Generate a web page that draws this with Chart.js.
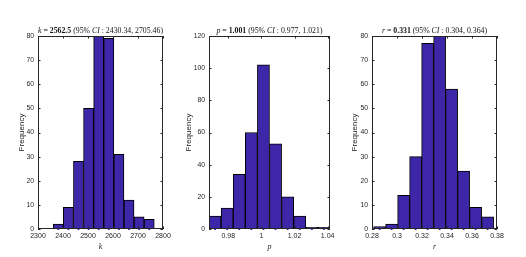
<!DOCTYPE html>
<html><head><meta charset="utf-8">
<script src="https://cdn.jsdelivr.net/npm/chart.js@4/dist/chart.umd.min.js"></script>
<style>
html,body{margin:0;padding:0;background:#fff;width:526px;height:257px;overflow:hidden}
canvas{position:absolute;top:0}
</style></head><body>
<canvas id="c1" width="180" height="257" style="left:0px"></canvas>
<canvas id="c2" width="170" height="257" style="left:180px"></canvas>
<canvas id="c3" width="181" height="257" style="left:345px"></canvas>
<script>
// ---- data ----
const kCenters = [2381.2, 2421.6, 2462.0, 2502.4, 2542.8, 2583.2, 2623.6, 2664.0, 2704.4, 2744.8];
const kCounts  = [2, 9, 28, 50, 80, 79, 31, 12, 5, 4];
const pCenters = [0.97205, 0.97935, 0.98665, 0.99395, 1.00125, 1.00855, 1.01585, 1.02315, 1.03045, 1.03775];
const pCounts  = [8, 13, 34, 60, 102, 53, 20, 8, 1, 1];
const rCenters = [0.2861, 0.2957, 0.3053, 0.3149, 0.3245, 0.3341, 0.3437, 0.3533, 0.3629, 0.3725];
const rCounts  = [1, 2, 14, 30, 77, 80, 58, 24, 9, 5];

const kXTicks = [2300, 2400, 2500, 2600, 2700, 2800];
const pXTicks = [0.98, 1.00, 1.02, 1.04];
const rXTicks = [0.28, 0.30, 0.32, 0.34, 0.36, 0.38];
const kYTicks = [0, 10, 20, 30, 40, 50, 60, 70, 80];
const pYTicks = [0, 20, 40, 60, 80, 100, 120];
const rYTicks = [0, 10, 20, 30, 40, 50, 60, 70, 80];

const kTitle = [['k','italic'],[' = ','normal'],['2562.5','bold'],[' (95% ','normal'],['CI','italic'],[' : 2430.34, 2705.46)','normal']];
const pTitle = [['p','italic'],[' = ','normal'],['1.001','bold'],[' (95% ','normal'],['CI','italic'],[' : 0.977, 1.021)','normal']];
const rTitle = [['r','italic'],[' = ','normal'],['0.331','bold'],[' (95% ','normal'],['CI','italic'],[' : 0.304, 0.364)','normal']];

// ---- styling ----
const AX = '#1e1e1e';
const BAR = '#3e26a8';
const SANS = '"Liberation Sans", Arial, sans-serif';
const SERIF = '"Liberation Serif", "DejaVu Serif", serif';

const boxPlugin = {
  id: 'box',
  afterDatasetsDraw(chart) {
    const {ctx, chartArea: a, scales: {x, y}} = chart;
    const tl = 2.5;
    ctx.save();
    ctx.strokeStyle = '#262626'; ctx.lineWidth = 1;
    ctx.beginPath();
    x.ticks.forEach(t => {
      const px = Math.round(x.getPixelForValue(t.value)) + 0.5;
      ctx.moveTo(px, a.bottom); ctx.lineTo(px, a.bottom - tl);
      ctx.moveTo(px, a.top); ctx.lineTo(px, a.top + tl);
    });
    y.ticks.forEach(t => {
      const py = Math.round(y.getPixelForValue(t.value)) + 0.5;
      ctx.moveTo(a.left, py); ctx.lineTo(a.left + tl, py);
      ctx.moveTo(a.right, py); ctx.lineTo(a.right - tl, py);
    });
    ctx.stroke();
    ctx.strokeRect(Math.round(a.left) + 0.5, Math.round(a.top) + 0.5,
                   Math.round(a.right - a.left) - 1, Math.round(a.bottom - a.top) - 1);
    ctx.restore();
  }
};

const richTitlePlugin = {
  id: 'richTitle',
  afterDraw(chart, args, opts) {
    const segs = opts.segments; if (!segs) return;
    const {ctx, chartArea: a} = chart;
    const size = opts.size;
    const fontOf = s => (s === 'italic' ? 'italic ' : s === 'bold' ? 'bold ' : '') + size + 'px ' + SERIF;
    ctx.save();
    let total = 0;
    segs.forEach(([t, s]) => { ctx.font = fontOf(s); total += ctx.measureText(t).width; });
    let x = (a.left + a.right) / 2 - total / 2;
    ctx.fillStyle = '#111';
    ctx.textBaseline = 'middle';
    ctx.textAlign = 'left';
    segs.forEach(([t, s]) => { ctx.font = fontOf(s); ctx.fillText(t, x, opts.y); x += ctx.measureText(t).width; });
    ctx.restore();
  }
};

function fmt(v) { return String(parseFloat(Number(v).toFixed(4))); }

function panel(id, centers, counts, xMin, xMax, xTicks, yMax, yTicks, L, R, W, titleSegs, xLabel, yTitlePad) {
  new Chart(document.getElementById(id), {
    data: {
      datasets: [
        {
          type: 'scatter', order: 0, clip: false,
          data: centers.map(c => ({x: c, y: 0})),
          pointRadius: 1.1, pointBackgroundColor: '#1515b0', pointBorderWidth: 0
        },
        {
          type: 'bar', order: 1,
          data: centers.map((c, i) => ({x: c, y: counts[i]})),
          backgroundColor: BAR, borderColor: '#000', borderWidth: 1,
          barPercentage: 1, categoryPercentage: 1, borderSkipped: false
        }
      ]
    },
    options: {
      responsive: false, animation: false, devicePixelRatio: 1,
      layout: {padding: {left: 0, right: W - R, top: 36, bottom: 0}},
      plugins: {
        legend: {display: false}, tooltip: {enabled: false},
        richTitle: {segments: titleSegs, size: 7.8, y: 30.5}
      },
      scales: {
        x: {
          type: 'linear', min: xMin, max: xMax, offset: false,
          afterBuildTicks: s => { s.ticks = xTicks.map(v => ({value: v})); },
          afterFit: s => { s.height = 28; },
          grid: {display: false, drawTicks: false}, border: {display: false},
          ticks: {color: AX, padding: 3, maxRotation: 0, autoSkip: false,
                  font: {family: SANS, size: 7}, callback: v => fmt(v)},
          title: {display: true, text: xLabel, color: AX, padding: {top: 0, bottom: 5.5},
                  font: {family: SERIF, size: 8, style: 'italic'}}
        },
        y: {
          type: 'linear', min: 0, max: yMax,
          afterBuildTicks: s => { s.ticks = yTicks.map(v => ({value: v})); },
          afterFit: s => { s.width = L; },
          grid: {display: false, drawTicks: false}, border: {display: false},
          ticks: {color: AX, padding: 4, autoSkip: false,
                  font: {family: SANS, size: 6.8}, callback: v => fmt(v)},
          title: {display: true, text: 'Frequency', color: '#222', padding: {top: yTitlePad, bottom: 0},
                  font: {family: SANS, size: 8}}
        }
      }
    },
    plugins: [boxPlugin, richTitlePlugin]
  });
}

panel('c1', kCenters, kCounts, 2300, 2800, kXTicks, 80, kYTicks, 38, 163, 180, kTitle, 'k', 16.9);
panel('c2', pCenters, pCounts, 0.9684, 1.0414, pXTicks, 120, pYTicks, 29, 150, 170, pTitle, 'p', 3.5);
panel('c3', rCenters, rCounts, 0.28, 0.38, rXTicks, 80, rYTicks, 27, 152, 181, rTitle, 'r', 5.2);
</script>
</body></html>
